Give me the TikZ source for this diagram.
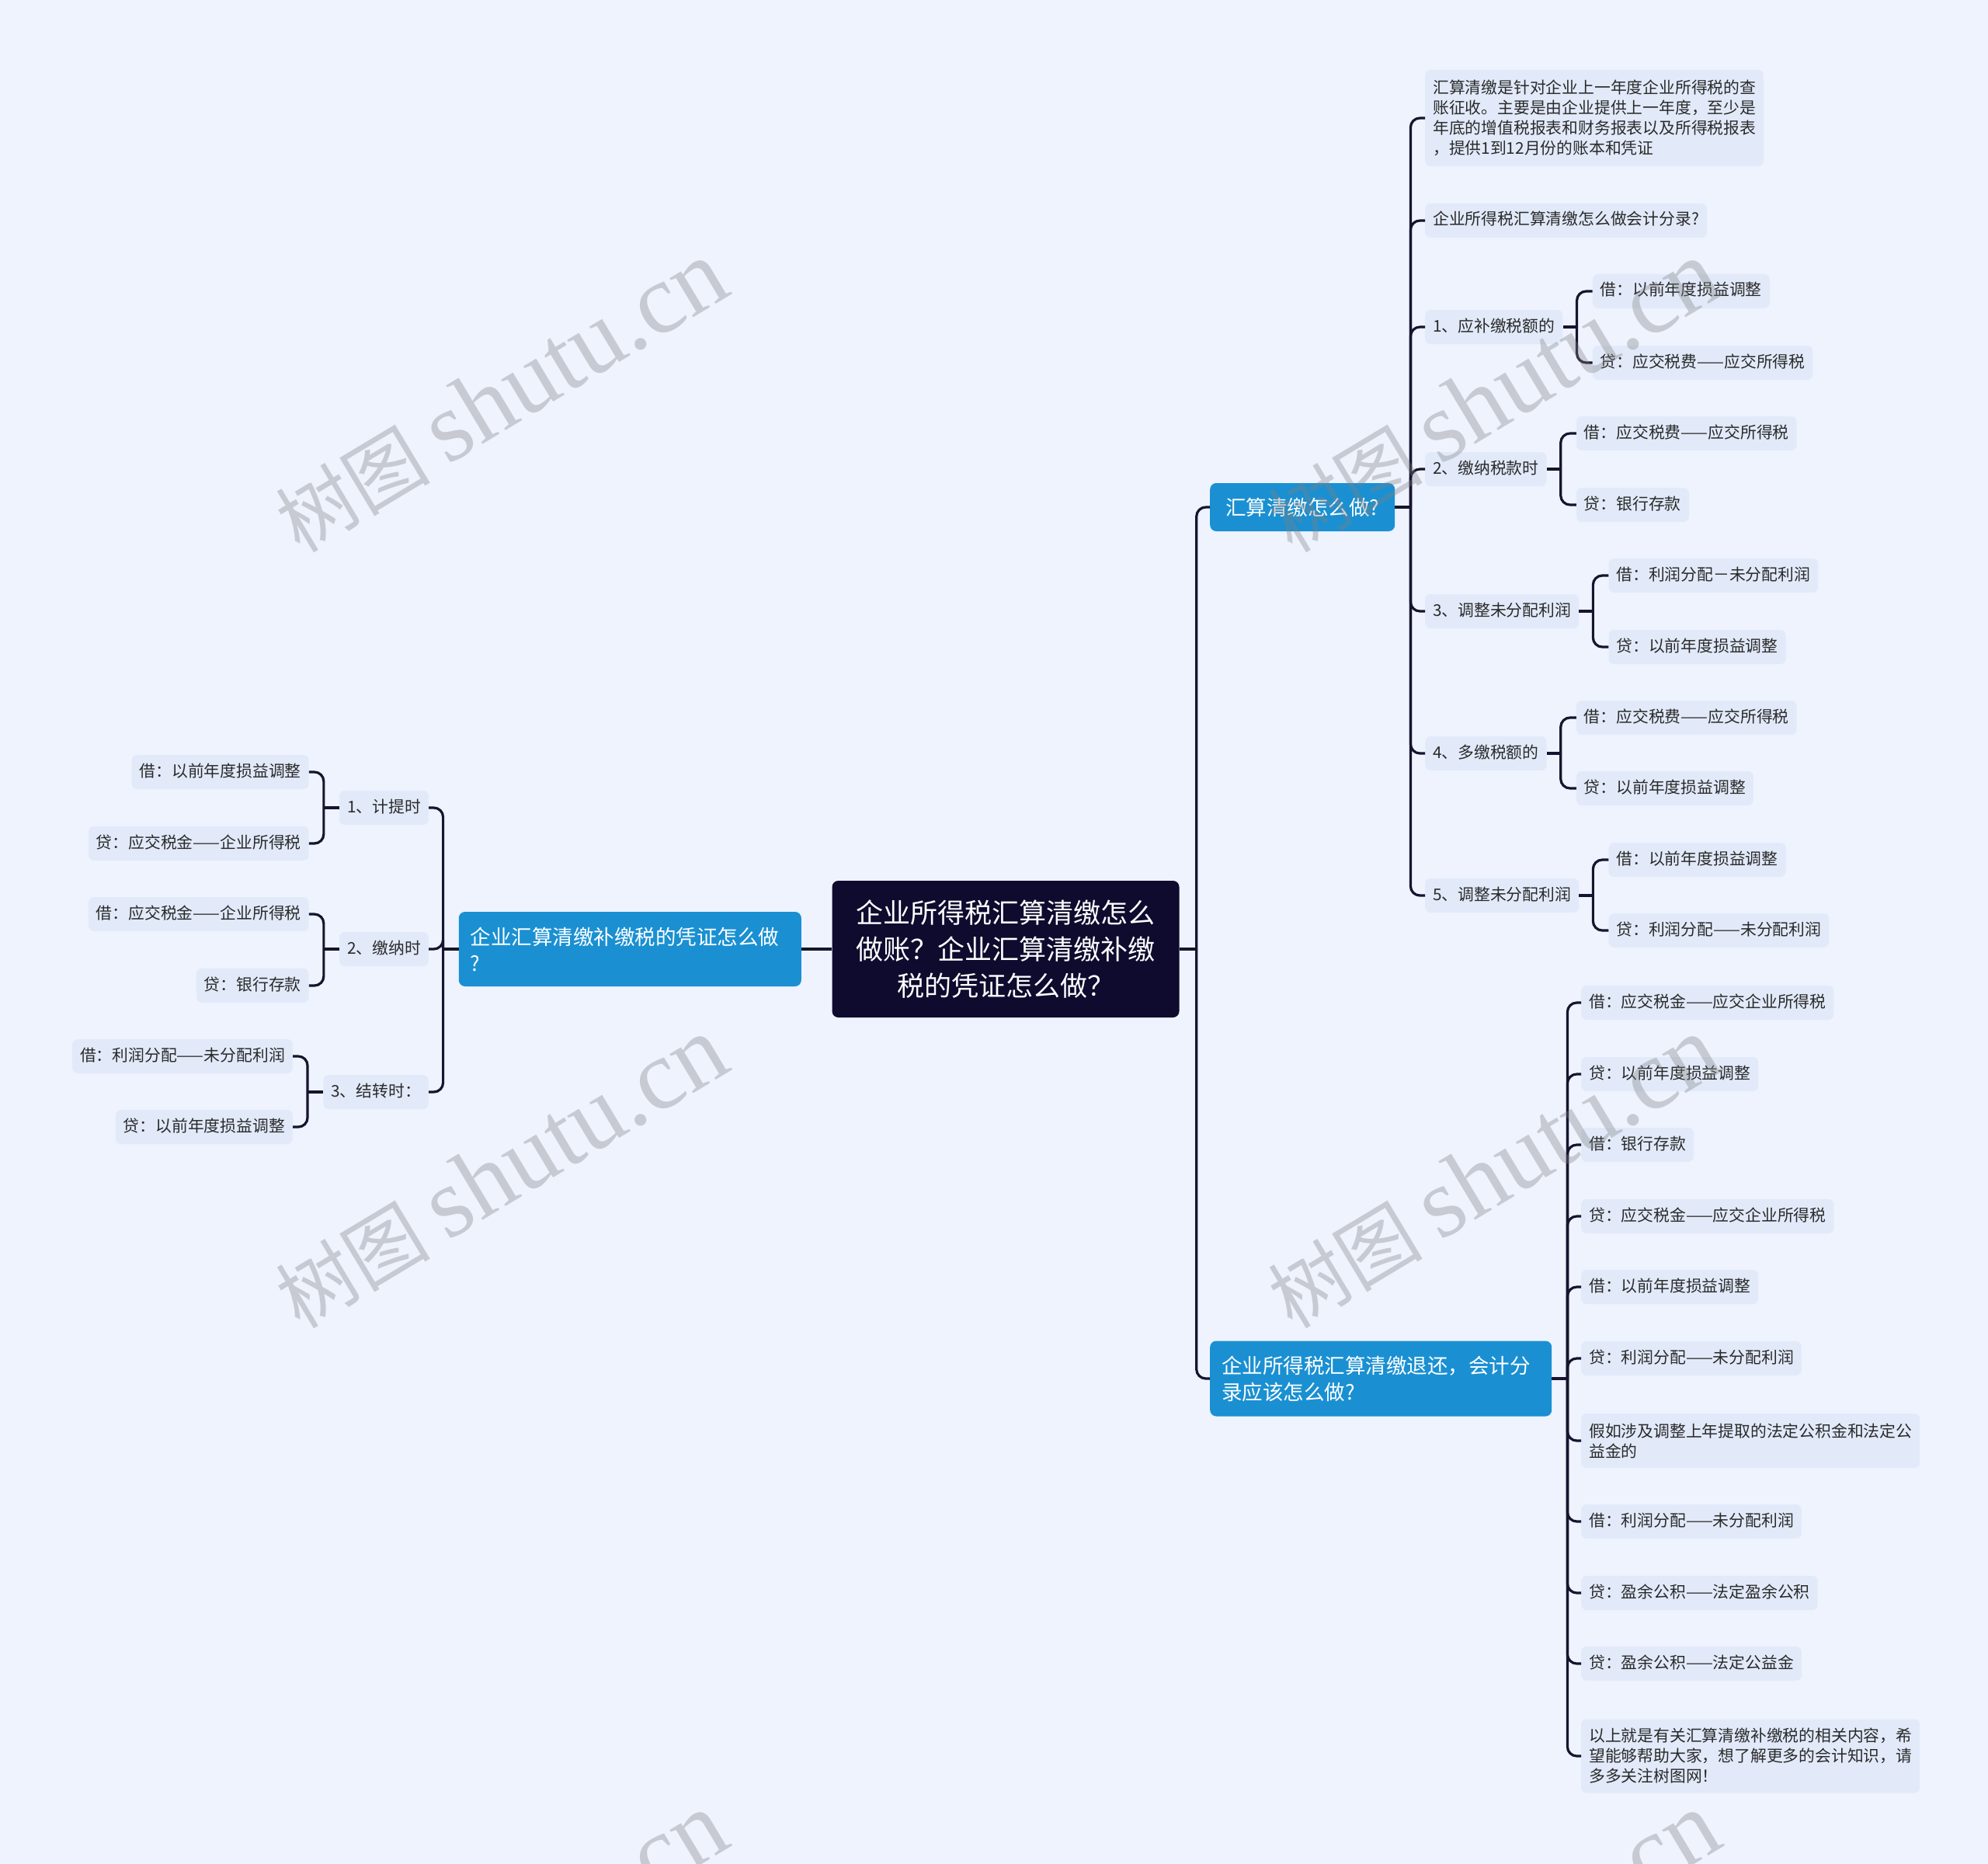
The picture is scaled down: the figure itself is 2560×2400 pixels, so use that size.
\documentclass[tikz,border=0pt]{standalone}
\usepackage{fontspec}
\setmainfont{Noto Sans CJK SC}
\newfontfamily\wmlatin{Liberation Serif}
\usetikzlibrary{calc}
\definecolor{bgc}{HTML}{EEF3FE}
\definecolor{leafc}{HTML}{E2EAFA}
\definecolor{bluec}{HTML}{1A90D2}
\definecolor{rootc}{HTML}{0E0B2E}
\definecolor{linec}{HTML}{16142E}
\definecolor{txtc}{HTML}{2A2A2A}
\tikzset{
  conn/.style={draw=linec, line width=3.2pt, rounded corners=12pt},
  leaf/.style={fill=leafc, text=txtc, rounded corners=7pt, inner xsep=10pt, inner ysep=9pt,
    text height=19pt, text depth=7pt, font=\fontsize{20.8}{26}\selectfont},
  leafm/.style={fill=leafc, text=txtc, rounded corners=7pt, inner xsep=10pt, inner ysep=8pt,
    align=left, text width=416pt, font=\fontsize{20.8}{26}\selectfont},
  branch/.style={fill=bluec, text=white, rounded corners=8pt, inner xsep=15pt, inner ysep=8pt,
    font=\fontsize{26.5}{34}\selectfont},
  rootn/.style={fill=rootc, text=white, rounded corners=8pt, align=center,
    font=\fontsize{35}{47}\selectfont, minimum width=447pt, minimum height=176pt},
  wm/.style={text=gray, opacity=0.35, rotate=31, font=\fontsize{100}{100}\selectfont}
}
\begin{document}
\begin{tikzpicture}[x=1pt,y=-1pt]
\fill[bgc] (0,0) rectangle (2560,2400);
\useasboundingbox (0,0) rectangle (2560,2400);
\clip (0,0) rectangle (2560,2400);

% root and branches
\node[rootn] (root) at (1295,1222) {企业所得税汇算清缴怎么\\做账？企业汇算清缴补缴\\税的凭证怎么做？};
\node[branch, anchor=east, text width=411pt, align=left, minimum height=96pt] (LB) at (1032,1222) {企业汇算清缴补缴税的凭证怎么做\\?};
\node[branch, anchor=west, minimum width=238pt, minimum height=62pt, inner xsep=13pt] (B1) at (1558,653) {汇算清缴怎么做?};
\node[branch, anchor=west, text width=410pt, align=left, minimum height=97pt] (B2) at (1558,1775) {企业所得税汇算清缴退还，会计分\\录应该怎么做?};

% left children
\node[leaf, anchor=east] (L1) at (552,1040) {1、计提时};
\node[leaf, anchor=east] (L2) at (552,1222) {2、缴纳时};
\node[leaf, anchor=east] (L3) at (552,1406) {3、结转时：};
\node[leaf, anchor=east] (L1a) at ($(L1.west |- 0,994)+(-39,0)$) {借：以前年度损益调整};
\node[leaf, anchor=east] (L1b) at ($(L1.west |- 0,1086)+(-39,0)$) {贷：应交税金——企业所得税};
\node[leaf, anchor=east] (L2a) at ($(L2.west |- 0,1177)+(-39,0)$) {借：应交税金——企业所得税};
\node[leaf, anchor=east] (L2b) at ($(L2.west |- 0,1269)+(-39,0)$) {贷：银行存款};
\node[leaf, anchor=east] (L3a) at ($(L3.west |- 0,1360)+(-39,0)$) {借：利润分配——未分配利润};
\node[leaf, anchor=east] (L3b) at ($(L3.west |- 0,1451)+(-39,0)$) {贷：以前年度损益调整};

% right branch 1 children
\node[leafm, anchor=west, minimum height=124pt] (R0) at (1835,152) {汇算清缴是针对企业上一年度企业所得税的查\\账征收。主要是由企业提供上一年度，至少是\\年底的增值税报表和财务报表以及所得税报表\\，提供1到12月份的账本和凭证};
\node[leaf, anchor=west] (R0b) at (1835,284) {企业所得税汇算清缴怎么做会计分录?};
\node[leaf, anchor=west] (R1) at (1835,421) {1、应补缴税额的};
\node[leaf, anchor=west] (R2) at (1835,604) {2、缴纳税款时};
\node[leaf, anchor=west] (R3) at (1835,787) {3、调整未分配利润};
\node[leaf, anchor=west] (R4) at (1835,970) {4、多缴税额的};
\node[leaf, anchor=west] (R5) at (1835,1153) {5、调整未分配利润};
\node[leaf, anchor=west] (R1a) at ($(R1.east |- 0,375)+(38,0)$) {借：以前年度损益调整};
\node[leaf, anchor=west] (R1b) at ($(R1.east |- 0,467)+(38,0)$) {贷：应交税费——应交所得税};
\node[leaf, anchor=west] (R2a) at ($(R2.east |- 0,558)+(38,0)$) {借：应交税费——应交所得税};
\node[leaf, anchor=west] (R2b) at ($(R2.east |- 0,650)+(38,0)$) {贷：银行存款};
\node[leaf, anchor=west] (R3a) at ($(R3.east |- 0,741)+(38,0)$) {借：利润分配－未分配利润};
\node[leaf, anchor=west] (R3b) at ($(R3.east |- 0,833)+(38,0)$) {贷：以前年度损益调整};
\node[leaf, anchor=west] (R4a) at ($(R4.east |- 0,924)+(38,0)$) {借：应交税费——应交所得税};
\node[leaf, anchor=west] (R4b) at ($(R4.east |- 0,1015)+(38,0)$) {贷：以前年度损益调整};
\node[leaf, anchor=west] (R5a) at ($(R5.east |- 0,1107)+(38,0)$) {借：以前年度损益调整};
\node[leaf, anchor=west] (R5b) at ($(R5.east |- 0,1198)+(38,0)$) {贷：利润分配——未分配利润};

% right branch 2 children
\node[leaf, anchor=west] (S1) at (2036,1291) {借：应交税金——应交企业所得税};
\node[leaf, anchor=west] (S2) at (2036,1383) {贷：以前年度损益调整};
\node[leaf, anchor=west] (S3) at (2036,1474) {借：银行存款};
\node[leaf, anchor=west] (S4) at (2036,1566) {贷：应交税金——应交企业所得税};
\node[leaf, anchor=west] (S5) at (2036,1657) {借：以前年度损益调整};
\node[leaf, anchor=west] (S6) at (2036,1749) {贷：利润分配——未分配利润};
\node[leafm, anchor=west, minimum height=70pt] (S7) at (2036,1855) {假如涉及调整上年提取的法定公积金和法定公\\益金的};
\node[leaf, anchor=west] (S8) at (2036,1959) {借：利润分配——未分配利润};
\node[leaf, anchor=west] (S9) at (2036,2051) {贷：盈余公积——法定盈余公积};
\node[leaf, anchor=west] (S10) at (2036,2142) {贷：盈余公积——法定公益金};
\node[leafm, anchor=west, minimum height=95pt] (S11) at (2036,2261) {以上就是有关汇算清缴补缴税的相关内容，希\\望能够帮助大家，想了解更多的会计知识，请\\多多关注树图网！};

% connectors: left
\draw[conn] (root.west) -- (LB.east);
\draw[conn] (LB.west) -- ++(-20,0) coordinate (lj);
\foreach \n in {L1,L2,L3} \draw[conn] (lj) |- (\n.east);
\draw[conn] (L1.west) -- ++(-20,0) coordinate (l1j);
\draw[conn] (l1j) |- (L1a.east); \draw[conn] (l1j) |- (L1b.east);
\draw[conn] (L2.west) -- ++(-20,0) coordinate (l2j);
\draw[conn] (l2j) |- (L2a.east); \draw[conn] (l2j) |- (L2b.east);
\draw[conn] (L3.west) -- ++(-20,0) coordinate (l3j);
\draw[conn] (l3j) |- (L3a.east); \draw[conn] (l3j) |- (L3b.east);

% connectors: right
\draw[conn] (root.east) -- ++(22,0) coordinate (rj);
\draw[conn] (rj) |- (B1.west);
\draw[conn] (rj) |- (B2.west);
\draw[conn] (B1.east) -- ++(20,0) coordinate (b1j);
\foreach \n in {R0,R0b,R1,R2,R3,R4,R5} \draw[conn] (b1j) |- (\n.west);
\foreach \n in {1,2,3,4,5}{
  \draw[conn] (R\n.east) -- ++(18,0) coordinate (r\n j);
  \draw[conn] (r\n j) |- (R\n a.west);
  \draw[conn] (r\n j) |- (R\n b.west);
}
\draw[conn] (B2.east) -- ++(20,0) coordinate (b2j);
\foreach \n in {S1,S2,S3,S4,S5,S6,S7,S8,S9,S10,S11} \draw[conn] (b2j) |- (\n.west);

% watermarks
\foreach \px/\py in {645/511, 1923/511, 645/1510, 1923/1510, 645/2509, 1923/2509}
  \node[wm] at (\px,\py) {树图 {\wmlatin\fontsize{128}{128}\selectfont shutu.cn}};
\end{tikzpicture}
\end{document}
